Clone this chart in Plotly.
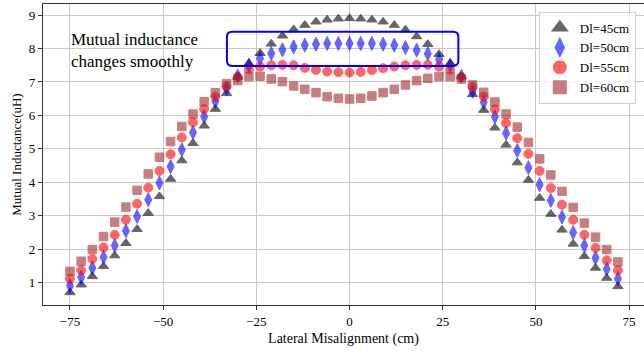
import plotly.graph_objects as go

x_cm = list(range(-75, 73, 3))

dl45 = [0.71, 0.94, 1.19, 1.49, 1.81, 2.18, 2.60, 3.08, 3.58, 4.10, 4.65, 5.17, 5.69, 6.19,
        6.66, 7.15, 7.56, 7.86, 8.14, 8.38, 8.57, 8.70, 8.80, 8.86, 8.89, 8.90, 8.89, 8.86,
        8.80, 8.70, 8.56, 8.36, 8.13, 7.83, 7.56, 7.16, 6.63, 6.16, 5.63, 5.12, 4.59, 4.07,
        3.53, 3.05, 2.58, 2.16, 1.79, 1.44, 1.14, 0.89]
dl50 = [0.91, 1.16, 1.44, 1.76, 2.11, 2.55, 2.98, 3.48, 3.98, 4.47, 4.97, 5.49, 5.96, 6.42,
        6.80, 7.18, 7.50, 7.70, 7.85, 7.96, 8.05, 8.10, 8.13, 8.15, 8.15, 8.15, 8.15, 8.15,
        8.13, 8.10, 8.03, 7.95, 7.84, 7.67, 7.50, 7.17, 6.72, 6.39, 5.96, 5.47, 4.95, 4.44,
        3.93, 3.46, 2.96, 2.50, 2.11, 1.74, 1.41, 1.12]
dl55 = [1.12, 1.37, 1.71, 2.05, 2.43, 2.88, 3.36, 3.84, 4.34, 4.84, 5.34, 5.79, 6.19, 6.56,
        6.88, 7.15, 7.38, 7.46, 7.50, 7.51, 7.50, 7.42, 7.36, 7.31, 7.29, 7.28, 7.30, 7.35,
        7.41, 7.46, 7.50, 7.51, 7.51, 7.46, 7.37, 7.14, 6.86, 6.56, 6.18, 5.77, 5.32, 4.85,
        4.34, 3.83, 3.33, 2.88, 2.43, 2.04, 1.67, 1.37]
dl60 = [1.34, 1.64, 1.99, 2.38, 2.81, 3.26, 3.76, 4.25, 4.75, 5.22, 5.67, 6.04, 6.41, 6.68,
        6.95, 7.04, 7.16, 7.17, 7.09, 7.01, 6.88, 6.78, 6.68, 6.56, 6.51, 6.49, 6.51, 6.58,
        6.68, 6.78, 6.91, 7.04, 7.11, 7.16, 7.16, 7.09, 6.91, 6.69, 6.40, 6.04, 5.65, 5.19,
        4.70, 4.22, 3.73, 3.25, 2.78, 2.36, 1.99, 1.62]

series_names = ["Dl=45cm", "Dl=50cm", "Dl=55cm", "Dl=60cm"]
series_vals = [dl45, dl50, dl55, dl60]
symbols = ["triangle-up", "diamond-tall", "circle", "square"]
colors = ["#000000", "#0000ff", "#ff0000", "#a52a2a"]
sizes = [9, 10, 9, 8.5]

x_ticks = [-75, -50, -25, 0, 25, 50, 75]
y_ticks = [1, 2, 3, 4, 5, 6, 7, 8, 9]

FONT = "Liberation Serif"

fig = go.Figure()
for name, vals, sym, col, sz in zip(series_names, series_vals, symbols, colors, sizes):
    fig.add_trace(go.Scatter(
        x=x_cm, y=vals, mode="markers", name=name,
        marker=dict(symbol=sym, color=col, size=sz, opacity=0.6,
                    line=dict(width=1, color=col)),
    ))

# rounded highlight box (data coords)
x0, x1, y0, y1 = -32.9, 29.2, 7.48, 8.50
rx, ry = 1.4, 0.16
path = (f"M {x0+rx},{y1} L {x1-rx},{y1} Q {x1},{y1} {x1},{y1-ry} "
        f"L {x1},{y0+ry} Q {x1},{y0} {x1-rx},{y0} L {x0+rx},{y0} "
        f"Q {x0},{y0} {x0},{y0+ry} L {x0},{y1-ry} Q {x0},{y1} {x0+rx},{y1} Z")
fig.add_shape(type="path", path=path, xref="x", yref="y",
              line=dict(color="#0000ff", width=2), fillcolor="rgba(0,0,0,0)")

fig.add_annotation(x=-75.2, y=7.95, xref="x", yref="y", xanchor="left", yanchor="middle",
                   text="Mutual inductance<br>changes smoothly", showarrow=False, align="left",
                   font=dict(family=FONT, size=17, color="#000000"))

fig.update_layout(
    width=644, height=351,
    margin=dict(l=43, r=0, t=4, b=46),
    paper_bgcolor="white", plot_bgcolor="white",
    font=dict(family=FONT, size=13, color="#000000"),
    showlegend=True,
    legend=dict(x=0.825, y=0.975, xanchor="left", yanchor="top",
                bgcolor="rgba(255,255,255,0.8)", bordercolor="#d0d0d0", borderwidth=1,
                font=dict(family=FONT, size=13), itemsizing="constant", tracegroupgap=0),
)
fig.update_xaxes(
    range=[-82.24, 79.0], tickvals=x_ticks, ticktext=[f"\u2212{abs(v)}" if v < 0 else str(v) for v in x_ticks],
    tickfont=dict(family=FONT, size=13),
    showgrid=True, gridcolor="#c8c8c8", gridwidth=1.2,
    showline=True, linecolor="#333333", linewidth=1.2, mirror=True,
    ticks="outside", ticklen=4, tickcolor="#333333", zeroline=False,
    title=dict(text="Lateral Misalignment (cm)", font=dict(family=FONT, size=14), standoff=5),
)
fig.update_yaxes(
    range=[0.333, 9.33], tickvals=y_ticks,
    tickfont=dict(family=FONT, size=13),
    showgrid=True, gridcolor="#c8c8c8", gridwidth=1.2,
    showline=True, linecolor="#333333", linewidth=1.2, mirror=False,
    ticks="outside", ticklen=4, tickcolor="#333333", zeroline=False,
    title=dict(text="Mutual Inductance(uH)", font=dict(family=FONT, size=13), standoff=4),
)

fig.write_html("out.html")
